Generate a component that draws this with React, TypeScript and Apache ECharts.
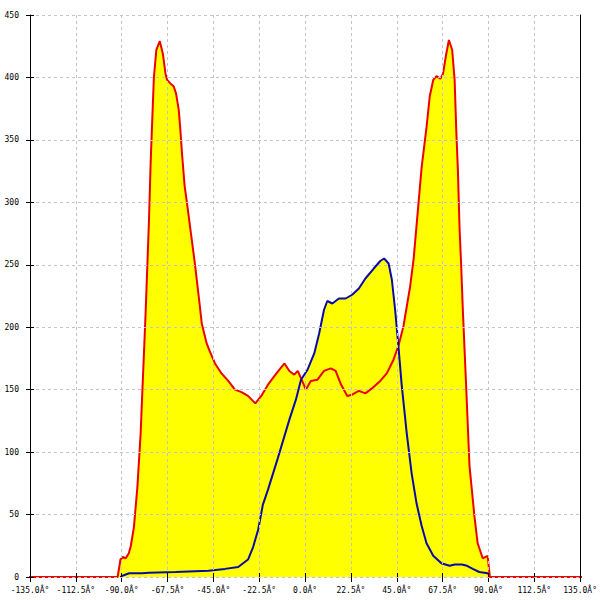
import React, { useEffect, useRef } from "react";
import * as echarts from "echarts";

// X-axis ticks and their labels (as printed in the reference)
const xTicks = [-135, -112.5, -90, -67.5, -45, -22.5, 0, 22.5, 45, 67.5, 90, 112.5, 135];
const xTickLabels = [
  "-135.0Â°", "-112.5Â°", "-90.0Â°", "-67.5Â°", "-45.0Â°", "-22.5Â°", "0.0Â°",
  "22.5Â°", "45.0Â°", "67.5Â°", "90.0Â°", "112.5Â°", "135.0Â°",
];

// Red series (angle in degrees, value)
const redAngles = [
  -180, -92, -90.6, -89.5, -88, -86.5, -85.5, -84, -82.3, -80.7, -79.9, -79, -78.2,
  -76.6, -75.8, -75, -74.2, -73, -71.3, -69.8, -68.5, -67.7, -66, -64.5, -63.3, -62,
  -61.2, -60.4, -59.1, -58, -56, -54, -52, -50.7, -48.3, -46.6, -44.2, -41, -37.7,
  -34.4, -31.2, -28, -24.4, -21.5, -18.2, -15, -12.6, -10.1, -7.7, -5.3, -3.6, -1.7,
  0.4, 2.8, 6.1, 9.3, 12.6, 15, 17.4, 20.7, 23.1, 26.4, 29.6, 32.8, 36.9, 40.1, 43.4,
  45.8, 48.3, 51.5, 53.3, 55.7, 57.2, 59.6, 61.2, 62.9, 64.5, 66.4, 67.7, 69.3, 70.6,
  72.2, 73.4, 74.2, 75, 75.8, 76.6, 77.4, 79, 80.7, 83.1, 84.7, 87.2, 89.6, 90.7, 180,
];
const redValues = [
  0, 0, 14, 16, 15, 19, 25, 40, 72, 115, 147, 182, 214,
  286, 331, 366, 400, 422, 429, 419, 403, 398, 395, 393, 387, 374,
  358, 339, 313, 300, 275, 250, 222, 203, 187, 180, 171, 163, 157,
  150, 148, 145, 139, 145, 154, 161, 166, 171, 165, 162, 165, 158,
  150, 157, 158, 165, 167, 165, 155, 145, 146, 149, 147, 151, 157, 163, 174,
  185, 201, 232, 255, 300, 328, 360, 385, 398, 401, 399, 403, 419, 430,
  422, 398, 358, 326, 280, 250, 215, 155, 89, 49, 27, 15, 17, 0, 0,
];

// Blue series (angle in degrees, value)
const blueAngles = [
  -90.7, -89.6, -88, -86.3, -80, -76.6, -63.6, -47.4, -39.3, -32.8, -28, -25.5, -23,
  -20.7, -18.2, -13.4, -7.7, -4.5, -2, 1.2, 4.5, 6.9, 9.3, 10.9, 13.4, 16.6, 19.9,
  23.1, 26.4, 29.6, 33.7, 36.9, 38.8, 41, 42.6, 44.2, 45.8, 47.4, 49.9, 52.3, 54.7,
  57.2, 59.6, 62.9, 66.9, 70.9, 73.5, 77, 79.5, 82.3, 85.5, 89.6, 90.3,
];
const blueValues = [
  0, 1, 2, 3, 3, 3.4, 4, 5, 6.5, 8, 14, 24, 38,
  58, 70, 95, 126, 142, 158, 166, 179, 195, 214, 221, 219, 223, 223,
  226, 231, 239, 247, 253, 255, 251, 238, 214, 185, 154, 115, 83, 59,
  41, 27, 17, 11, 9, 10, 10, 9, 6.5, 4, 3, 2,
];

const FONT = "DejaVu Sans Mono";

export default function App() {
  const ref = useRef<HTMLDivElement>(null);

  useEffect(() => {
    if (!ref.current) return;
    const chart = echarts.init(ref.current, undefined, { renderer: "svg" });
    const red = redAngles.map((a, i) => [a, redValues[i]]);
    const blue = blueAngles.map((a, i) => [a, blueValues[i]]);
    const gridLine = { show: true, lineStyle: { color: "#c4c4c4", type: [3, 3] as any, width: 1 } };
    const labelStyle = { fontFamily: FONT, fontSize: 8, color: "#000" };

    chart.setOption({
      animation: false,
      backgroundColor: "#ffffff",
      grid: { left: 30, width: 555, top: 15, height: 562, containLabel: false },
      xAxis: [
        {
          type: "value",
          min: -135,
          max: 135,
          interval: 22.5,
          z: 5,
          axisLine: { show: false, onZero: false },
          axisTick: { show: true, length: 5, lineStyle: { color: "#000" } },
          axisLabel: {
            ...labelStyle,
            margin: 9,
            showMinLabel: true,
            showMaxLabel: true,
            formatter: (v: number) => {
              const i = xTicks.findIndex((t) => Math.abs(t - v) < 1e-6);
              return i >= 0 ? xTickLabels[i] : "";
            },
          },
          splitLine: gridLine,
        },
        {
          type: "value",
          min: -135,
          max: 135,
          interval: 22.5,
          position: "bottom",
          z: 5,
          axisLine: { show: false, onZero: false },
          axisTick: { show: true, inside: true, length: 4, lineStyle: { color: "#000" } },
          axisLabel: { show: false },
          splitLine: { show: false },
        },
      ],
      yAxis: [
        {
          type: "value",
          min: 0,
          max: 450,
          interval: 50,
          position: "left",
          z: 6,
          axisLine: { show: true, onZero: false, lineStyle: { color: "#000", width: 1 } },
          axisTick: { show: true, length: 4, lineStyle: { color: "#000" } },
          axisLabel: { ...labelStyle, margin: 11 },
          splitLine: gridLine,
        },
        {
          type: "value",
          min: 0,
          max: 450,
          interval: 50,
          position: "right",
          z: 6,
          axisLine: { show: true, onZero: false, lineStyle: { color: "#000", width: 1 } },
          axisTick: { show: false },
          axisLabel: { show: false },
          splitLine: { show: false },
        },
        {
          type: "value",
          min: 0,
          max: 450,
          interval: 50,
          position: "left",
          z: 6,
          axisLine: { show: false, onZero: false },
          axisTick: { show: true, inside: true, length: 4, lineStyle: { color: "#000" } },
          axisLabel: { show: false },
          splitLine: { show: false },
        },
      ],
      series: [
        {
          type: "line",
          data: blue,
          showSymbol: false,
          silent: true,
          lineStyle: { width: 0 },
          areaStyle: { color: "#ffff00", opacity: 1 },
          z: 2,
        },
        {
          type: "line",
          data: red,
          showSymbol: false,
          silent: true,
          clip: false,
          lineStyle: { width: 0 },
          areaStyle: { color: "#ffff00", opacity: 1 },
          z: 2,
        },
        {
          type: "line",
          data: red,
          showSymbol: false,
          silent: true,
          clip: false,
          lineStyle: { color: "#ee0000", width: 2 },
          z: 3,
        },
        {
          type: "line",
          data: blue,
          showSymbol: false,
          silent: true,
          lineStyle: { color: "#0a0aa8", width: 2 },
          z: 4,
        },
      ],
    });
    return () => chart.dispose();
  }, []);

  return (
    <div
      ref={ref}
      style={{ position: "fixed", left: 0, top: 0, width: 600, height: 600, background: "#fff" }}
    />
  );
}
